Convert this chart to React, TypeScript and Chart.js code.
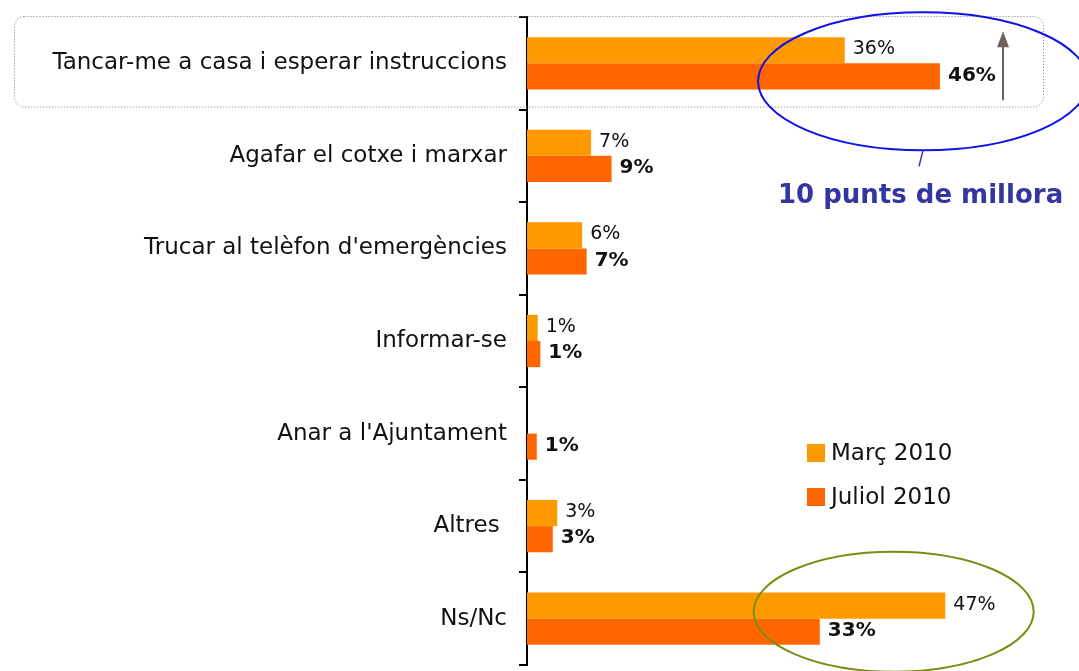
import React, { useEffect, useRef } from "react";
import { Chart, registerables } from "chart.js";

Chart.register(...registerables);

const categories = [
  "Tancar-me a casa i esperar instruccions",
  "Agafar el cotxe i marxar",
  "Trucar al telèfon d'emergències",
  "Informar-se",
  "Anar a l'Ajuntament",
  "Altres ",
  "Ns/Nc",
];
const seriesNames = ["Març 2010", "Juliol 2010"];
const marcValues = [35.7, 7.2, 6.2, 1.2, 0, 3.4, 47];
const juliolValues = [46.4, 9.5, 6.7, 1.5, 1.1, 2.9, 32.9];
const marcLabels = ["36%", "7%", "6%", "1%", "", "3%", "47%"];
const juliolLabels = ["46%", "9%", "7%", "1%", "1%", "3%", "33%"];
const highlightText = "10 punts de millora";

const FONT = "'DejaVu Sans', sans-serif";

const overlayPlugin = {
  id: "overlay",
  afterDatasetsDraw(chart: any) {
    const ctx = chart.ctx as CanvasRenderingContext2D;
    const labelsSets = [marcLabels, juliolLabels];
    ctx.save();
    chart.data.datasets.forEach((ds: any, di: number) => {
      const meta = chart.getDatasetMeta(di);
      meta.data.forEach((bar: any, i: number) => {
        const txt = labelsSets[di][i];
        if (!txt) return;
        ctx.font = di === 1 ? "bold 20px " + FONT : "19px " + FONT;
        ctx.fillStyle = "#111";
        ctx.textBaseline = "middle";
        ctx.textAlign = "left";
        ctx.fillText(txt, bar.x + 8, bar.y - 1);
      });
    });
    ctx.restore();
  },
  afterDraw(chart: any) {
    const ctx = chart.ctx as CanvasRenderingContext2D;
    const y = chart.scales.y;
    const x = chart.scales.x;
    ctx.save();
    // dotted rounded box around first category
    const catH = y.getPixelForValue(1) - y.getPixelForValue(0);
    const by0 = y.getPixelForValue(0) - catH / 2;
    const by1 = y.getPixelForValue(0) + catH / 2 - 2;
    ctx.setLineDash([1, 2]);
    ctx.strokeStyle = "#7a7a7a";
    ctx.lineWidth = 1;
    ctx.beginPath();
    (ctx as any).roundRect(14.5, by0 - 0.5, 1029, by1 - by0, 10);
    ctx.stroke();
    ctx.setLineDash([]);

    // legend
    const legendColors = chart.data.datasets.map((d: any) => d.backgroundColor);
    const lx = 807;
    const ly = [444, 488];
    ctx.font = "23px " + FONT;
    ctx.textBaseline = "middle";
    ctx.textAlign = "left";
    seriesNames.forEach((n, i) => {
      ctx.fillStyle = legendColors[i];
      ctx.fillRect(lx, ly[i], 18, 18);
      ctx.fillStyle = "#111";
      ctx.fillText(n, lx + 24, ly[i] + 10);
    });

    // blue ellipse around first category values
    const yTop = y.getPixelForValue(0);
    const ex = x.getPixelForValue(44.5);
    ctx.strokeStyle = "#1010e8";
    ctx.lineWidth = 2;
    ctx.beginPath();
    ctx.ellipse(ex, yTop + 18, 165, 69, 0, 0, Math.PI * 2);
    ctx.stroke();
    // connector line
    ctx.lineWidth = 1.5;
    ctx.strokeStyle = "#3a3aa8";
    ctx.beginPath();
    ctx.moveTo(ex, yTop + 87);
    ctx.lineTo(ex - 4, yTop + 103);
    ctx.stroke();
    // text
    ctx.fillStyle = "#3535a0";
    ctx.font = "bold 26px " + FONT;
    ctx.textAlign = "left";
    ctx.textBaseline = "middle";
    ctx.fillText(highlightText, 778, yTop + 133);

    // arrow
    const ax = 1003;
    ctx.strokeStyle = "#6e6258";
    ctx.fillStyle = "#6e6258";
    ctx.lineWidth = 2;
    ctx.beginPath();
    ctx.moveTo(ax, yTop + 37);
    ctx.lineTo(ax, yTop - 20);
    ctx.stroke();
    ctx.beginPath();
    ctx.moveTo(ax, yTop - 32);
    ctx.lineTo(ax - 6, yTop - 16);
    ctx.lineTo(ax + 6, yTop - 16);
    ctx.closePath();
    ctx.fill();

    // olive ellipse around Ns/Nc
    const yLast = y.getPixelForValue(6);
    ctx.strokeStyle = "#7f8a10";
    ctx.lineWidth = 2;
    ctx.beginPath();
    ctx.ellipse(x.getPixelForValue(41.2), yLast - 7, 140, 60, 0, 0, Math.PI * 2);
    ctx.stroke();
    ctx.restore();
  },
};

export default function App() {
  const ref = useRef<HTMLCanvasElement | null>(null);
  useEffect(() => {
    if (!ref.current) return;
    const chart = new Chart(ref.current, {
      type: "bar",
      data: {
        labels: categories,
        datasets: [
          { label: seriesNames[0], data: marcValues, backgroundColor: "#FF9900" },
          { label: seriesNames[1], data: juliolValues, backgroundColor: "#FF6600" },
        ],
      },
      options: {
        indexAxis: "y",
        animation: false,
        responsive: false,
        maintainAspectRatio: false,
        datasets: { bar: { barPercentage: 1, categoryPercentage: 0.565 } },
        layout: { padding: { top: 17, bottom: 6, right: 18, left: 0 } },
        plugins: { legend: { display: false }, tooltip: { enabled: false } },
        scales: {
          x: { display: false, min: 0, max: 60 },
          y: {
            afterFit: (s: any) => {
              s.width = 527;
              s.paddingTop = 0;
              s.paddingBottom = 0;
            },
            grid: {
              display: true,
              drawOnChartArea: false,
              drawTicks: true,
              tickLength: 8,
              color: "#000",
              lineWidth: 2,
              offset: true,
            },
            border: { display: true, color: "#000", width: 2 },
            ticks: {
              color: "#111",
              padding: 12,
              font: { family: FONT, size: 23 },
            },
          },
        },
      },
      plugins: [overlayPlugin],
    });
    return () => chart.destroy();
  }, []);
  return (
    <div style={{ position: "fixed", left: 0, top: 0, width: 1079, height: 671, background: "#fff" }}>
      <canvas ref={ref} width={1079} height={671} style={{ width: 1079, height: 671 }} />
    </div>
  );
}
